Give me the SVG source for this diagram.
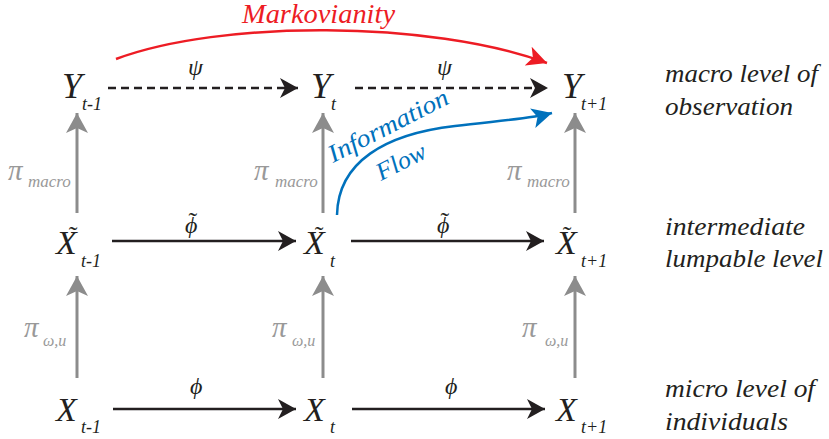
<svg xmlns="http://www.w3.org/2000/svg" width="829" height="439" viewBox="0 0 829 439">
<style>
.n{font-size:34px;fill:#231f20;}
.y{font-size:36px;fill:#231f20;}
.s{font-size:18px;fill:#231f20;}
.g{font-size:24px;fill:#231f20;}
.p{font-size:29px;fill:#999;}
.ps{font-size:17px;fill:#999;}
.pw{font-size:16px;fill:#999;}
.lv{font-size:26px;fill:#231f20;}
.bk{stroke:#231f20;stroke-width:2.5;fill:none;}
.gr{stroke:#8c8c8c;stroke-width:3;fill:none;}
</style>
<defs>
<marker id="ab" markerUnits="userSpaceOnUse" viewBox="0 0 18 20" refX="18" refY="10" markerWidth="18" markerHeight="20" orient="auto"><path d="M0,0 L18,10 L0,20 L5,10 Z" fill="#231f20"/></marker>
<marker id="ag" markerUnits="userSpaceOnUse" viewBox="0 0 20 22" refX="20" refY="11" markerWidth="20" markerHeight="22" orient="auto"><path d="M0,0 L20,11 L0,22 L5,11 Z" fill="#8c8c8c"/></marker>
<marker id="ar" markerUnits="userSpaceOnUse" viewBox="0 0 20 20" refX="20" refY="10" markerWidth="20" markerHeight="20" orient="auto"><path d="M0,0 L20,10 L0,20 L5,10 Z" fill="#ed1c24"/></marker>
<marker id="au" markerUnits="userSpaceOnUse" viewBox="0 0 20 20" refX="20" refY="10" markerWidth="20" markerHeight="20" orient="auto"><path d="M0,0 L20,10 L0,20 L5,10 Z" fill="#0071bc"/></marker>
</defs>

<g id="connectors">
<path class="bk" d="M108,88 H298" stroke-dasharray="8 5" marker-end="url(#ab)"/>
<path class="bk" d="M355,88 H548" stroke-dasharray="8 5" marker-end="url(#ab)"/>
<path class="bk" d="M112,241 H296" marker-end="url(#ab)"/>
<path class="bk" d="M351,241 H544" marker-end="url(#ab)"/>
<path class="bk" d="M113,409 H296" marker-end="url(#ab)"/>
<path class="bk" d="M352,409 H545" marker-end="url(#ab)"/>
<path class="gr" d="M77,213 V113" marker-end="url(#ag)"/>
<path class="gr" d="M323,213 V113" marker-end="url(#ag)"/>
<path class="gr" d="M575,213 V113" marker-end="url(#ag)"/>
<path class="gr" d="M77,378 V276" marker-end="url(#ag)"/>
<path class="gr" d="M323,378 V276" marker-end="url(#ag)"/>
<path class="gr" d="M575,378 V276" marker-end="url(#ag)"/>
<path d="M116,59 C220,20 430,20 547,63" stroke="#ed1c24" stroke-width="2.5" fill="none" marker-end="url(#ar)"/>
<path d="M337,215 C338,162 385,134 455,126 C495,121 530,119 552,113" stroke="#0071bc" stroke-width="2.5" fill="none" marker-end="url(#au)"/>
<text class="g" font-family="Liberation Serif" font-style="italic" x="188" y="75">ψ</text>
<text class="g" font-family="Liberation Serif" font-style="italic" x="437" y="75">ψ</text>
<text class="g" font-family="Liberation Serif" font-style="italic" x="185" y="233">ϕ<tspan font-style="normal" font-size="26" dx="-9" dy="-3">˜</tspan></text>
<text class="g" font-family="Liberation Serif" font-style="italic" x="437" y="233">ϕ<tspan font-style="normal" font-size="26" dx="-9" dy="-3">˜</tspan></text>
<text class="g" font-family="Liberation Serif" font-style="italic" x="190" y="394">ϕ</text>
<text class="g" font-family="Liberation Serif" font-style="italic" x="445" y="394">ϕ</text>
<text class="p" font-family="Liberation Serif" font-style="italic" x="8" y="180">π</text><text class="ps" font-family="Liberation Serif" font-style="italic" x="28" y="187">macro</text>
<text class="p" font-family="Liberation Serif" font-style="italic" x="254" y="180">π</text><text class="ps" font-family="Liberation Serif" font-style="italic" x="275" y="187">macro</text>
<text class="p" font-family="Liberation Serif" font-style="italic" x="507" y="180">π</text><text class="ps" font-family="Liberation Serif" font-style="italic" x="527" y="187">macro</text>
<text class="p" font-family="Liberation Serif" font-style="italic" x="24" y="337">π</text><text class="pw" font-family="Liberation Serif" font-style="italic" x="43" y="346">ω,u</text>
<text class="p" font-family="Liberation Serif" font-style="italic" x="272" y="337">π</text><text class="pw" font-family="Liberation Serif" font-style="italic" x="292" y="346">ω,u</text>
<text class="p" font-family="Liberation Serif" font-style="italic" x="522" y="337">π</text><text class="pw" font-family="Liberation Serif" font-style="italic" x="545" y="346">ω,u</text>
<text font-family="Liberation Serif" font-style="italic" x="242" y="23" fill="#ed1c24" font-size="27" textLength="153" lengthAdjust="spacingAndGlyphs">Markovianity</text>
<text font-family="Liberation Serif" font-style="italic" x="333" y="163" fill="#0071bc" font-size="25" transform="rotate(-27 333 163)" textLength="132" lengthAdjust="spacingAndGlyphs">Information</text>
<text font-family="Liberation Serif" font-style="italic" x="381" y="181" fill="#0071bc" font-size="25" transform="rotate(-27 381 181)" textLength="53" lengthAdjust="spacingAndGlyphs">Flow</text>
</g>

<g id="Y_tm1"><text class="y" font-family="Liberation Serif" font-style="italic" x="62" y="98">Y</text><text class="s" font-family="Liberation Serif" font-style="italic" x="82" y="110">t-1</text></g>
<g id="Y_t"><text class="y" font-family="Liberation Serif" font-style="italic" x="311" y="98">Y</text><text class="s" font-family="Liberation Serif" font-style="italic" x="331" y="110">t</text></g>
<g id="Y_tp1"><text class="y" font-family="Liberation Serif" font-style="italic" x="562" y="98">Y</text><text class="s" font-family="Liberation Serif" font-style="italic" x="581" y="110">t+1</text></g>

<g id="Xt_tm1"><text class="n" font-family="Liberation Serif" font-style="italic" x="56" y="254">X<tspan font-style="normal" font-size="26" dx="-8" dy="-10">˜</tspan></text><text class="s" font-family="Liberation Serif" font-style="italic" x="81" y="267">t-1</text></g>
<g id="Xt_t"><text class="n" font-family="Liberation Serif" font-style="italic" x="304" y="254">X<tspan font-style="normal" font-size="26" dx="-10" dy="-10">˜</tspan></text><text class="s" font-family="Liberation Serif" font-style="italic" x="330" y="267">t</text></g>
<g id="Xt_tp1"><text class="n" font-family="Liberation Serif" font-style="italic" x="556" y="254">X<tspan font-style="normal" font-size="26" dx="-14" dy="-10">˜</tspan></text><text class="s" font-family="Liberation Serif" font-style="italic" x="581" y="267">t+1</text></g>

<g id="X_tm1"><text class="n" font-family="Liberation Serif" font-style="italic" x="56" y="421">X</text><text class="s" font-family="Liberation Serif" font-style="italic" x="81" y="433">t-1</text></g>
<g id="X_t"><text class="n" font-family="Liberation Serif" font-style="italic" x="304" y="421">X</text><text class="s" font-family="Liberation Serif" font-style="italic" x="330" y="433">t</text></g>
<g id="X_tp1"><text class="n" font-family="Liberation Serif" font-style="italic" x="556" y="421">X</text><text class="s" font-family="Liberation Serif" font-style="italic" x="581" y="433">t+1</text></g>

<g id="level_macro"><text class="lv" font-family="Liberation Serif" font-style="italic" x="665" y="82" textLength="153" lengthAdjust="spacingAndGlyphs">macro level of</text><text class="lv" font-family="Liberation Serif" font-style="italic" x="665" y="115" textLength="128" lengthAdjust="spacingAndGlyphs">observation</text></g>
<g id="level_intermediate"><text class="lv" font-family="Liberation Serif" font-style="italic" x="665" y="235" textLength="140" lengthAdjust="spacingAndGlyphs">intermediate</text><text class="lv" font-family="Liberation Serif" font-style="italic" x="665" y="267" textLength="158" lengthAdjust="spacingAndGlyphs">lumpable level</text></g>
<g id="level_micro"><text class="lv" font-family="Liberation Serif" font-style="italic" x="665" y="397" textLength="150" lengthAdjust="spacingAndGlyphs">micro level of</text><text class="lv" font-family="Liberation Serif" font-style="italic" x="665" y="430" textLength="123" lengthAdjust="spacingAndGlyphs">individuals</text></g>
</svg>
